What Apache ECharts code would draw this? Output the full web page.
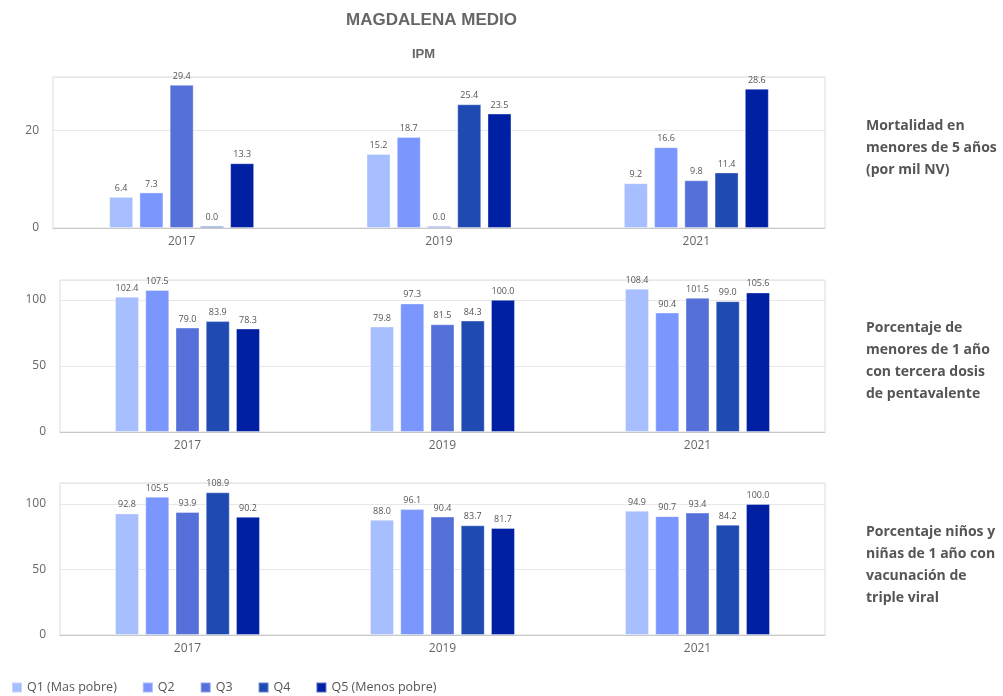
<!DOCTYPE html>
<html><head><meta charset="utf-8">
<script src="https://cdn.jsdelivr.net/npm/echarts@6/dist/echarts.min.js"></script>
<style>html,body{margin:0;padding:0;background:#fff}#c{width:1003px;height:696px}</style>
</head><body><div id="c"></div>
<script>
const years = ['2017', '2019', '2021'];
const seriesNames = ['Q1 (Mas pobre)', 'Q2', 'Q3', 'Q4', 'Q5 (Menos pobre)'];
const colors = ['#a7bffe', '#7b97fd', '#5571d9', '#1f4ab2', '#0020a3'];
// Panel 1: Mortalidad en menores de 5 años (por mil NV)
const mort = [
  [6.4, 15.2, 9.2],
  [7.3, 18.7, 16.6],
  [29.4, 0.0, 9.8],
  [0.0, 25.4, 11.4],
  [13.3, 23.5, 28.6]
];
// Panel 2: Porcentaje de menores de 1 año con tercera dosis de pentavalente
const penta = [
  [102.4, 79.8, 108.4],
  [107.5, 97.3, 90.4],
  [79.0, 81.5, 101.5],
  [83.9, 84.3, 99.0],
  [78.3, 100.0, 105.6]
];
// Panel 3: Porcentaje niños y niñas de 1 año con vacunación de triple viral
const viral = [
  [92.8, 88.0, 94.9],
  [105.5, 96.1, 90.7],
  [93.9, 90.4, 93.4],
  [108.9, 83.7, 84.2],
  [90.2, 81.7, 100.0]
];
const panelLabels = [
  ['Mortalidad en', 'menores de 5 años', '(por mil NV)'],
  ['Porcentaje de', 'menores de 1 año', 'con tercera dosis', 'de pentavalente'],
  ['Porcentaje niños y', 'niñas de 1 año con', 'vacunación de', 'triple viral']
];
const panels = [mort, penta, viral];
const yMax = [31, 115, 116];
const yInterval = [20, 50, 50];

const font = 'Open Sans';
const grids = [
  {left: 53, right: 178, top: 77, height: 151},
  {left: 60, right: 178, top: 280, height: 152},
  {left: 60, right: 178, top: 483, height: 152}
].map(g => Object.assign(g, {show: true, borderColor: '#dcdcdc', borderWidth: 1, containLabel: false}));

const xAxes = grids.map((g, i) => ({
  type: 'category', gridIndex: i, data: years,
  axisTick: {show: false},
  axisLine: {show: true, lineStyle: {color: '#c8c8c8'}},
  axisLabel: {color: '#666', fontSize: 12, fontFamily: font, margin: 8}
}));
const yAxes = grids.map((g, i) => ({
  type: 'value', gridIndex: i, min: 0, max: yMax[i], interval: yInterval[i],
  axisLine: {show: false}, axisTick: {show: false},
  splitLine: {lineStyle: {color: '#e8e8e8'}},
  axisLabel: {color: '#666', fontSize: 12, fontFamily: font, margin: 14, showMaxLabel: false,
    formatter: v => (v % yInterval[i] === 0 ? String(v) : '')}
}));

const series = [];
panels.forEach((data, p) => {
  data.forEach((vals, s) => {
    series.push({
      type: 'bar', name: seriesNames[s], xAxisIndex: p, yAxisIndex: p,
      data: vals, barWidth: 24, barGap: '26%', barMinHeight: 2,
      itemStyle: {color: colors[s], borderColor: 'rgba(255,255,255,0.35)', borderWidth: 1},
      label: {show: true, position: 'top', distance: 4, color: '#555', fontSize: 9, fontFamily: font,
        formatter: p2 => p2.value.toFixed(1)}
    });
  });
});

const graphics = [
  {type: 'text', left: 346, top: 12, style: {text: 'MAGDALENA MEDIO', font: 'bold 17px "Liberation Sans", Arial', fill: '#666'}},
  {type: 'text', left: 412, top: 48, style: {text: 'IPM', font: 'bold 13px "Liberation Sans", Arial', fill: '#666'}}
];
const labelTops = [115, 317, 521];
panelLabels.forEach((lines, i) => {
  graphics.push({type: 'text', left: 866, top: labelTops[i],
    style: {text: lines.join('\n'), font: 'bold 14px "Open Sans"', fill: '#555', lineHeight: 22}});
});

const chart = echarts.init(document.getElementById('c'), null, {renderer: 'canvas'});
chart.setOption({
  animation: false,
  color: colors,
  grid: grids, xAxis: xAxes, yAxis: yAxes, series: series,
  graphic: graphics,
  legend: {
    data: seriesNames, left: 6, top: 676, itemWidth: 10, itemHeight: 10, itemGap: 25,
    icon: 'rect',
    textStyle: {color: '#555', fontSize: 12.5, fontFamily: font}
  }
});
</script></body></html>
